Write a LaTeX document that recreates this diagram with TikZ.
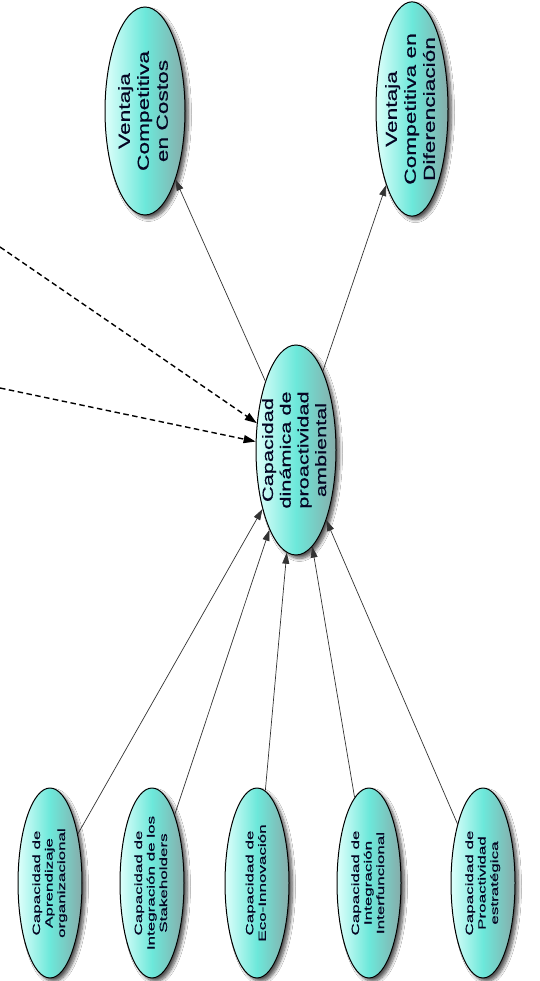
\documentclass[tikz,border=0pt]{standalone}
\usepackage{fontspec}
\setmainfont{Liberation Sans}[FakeBold=0.5]
\usepackage{graphicx}
\usetikzlibrary{shapes.geometric,arrows.meta,shadows.blur}
\definecolor{ellL}{RGB}{222,255,251}
\definecolor{ellM}{RGB}{108,232,218}
\definecolor{ellR}{RGB}{135,172,170}
\definecolor{txtc}{RGB}{5,5,35}
\newcommand{\rtxt}[4]{\rotatebox{90}{\fontsize{#1}{#2}\selectfont\scalebox{#3}[1]{\begin{tabular}{@{}c@{}}#4\end{tabular}}}}
\begin{document}
\begin{tikzpicture}[x=1pt,y=-1pt,
  ell/.style={ellipse, draw=black, line width=1pt, inner xsep=-25pt, inner ysep=0pt,
     left color=ellL, right color=ellR, middle color=ellM, text=txtc,
     blur shadow={shadow xshift=3.5pt, shadow yshift=-3.5pt, shadow blur steps=8, shadow blur radius=3pt, shadow opacity=65}},
  big/.style={ell, minimum width=80pt, minimum height=210pt},
  small/.style={ell, minimum width=64pt, minimum height=190pt},
  link/.style={draw=black!80, line width=0.7pt, -{Triangle[length=11pt,width=7pt]}},
  dlink/.style={draw=black, line width=1.4pt, dash pattern=on 5.5pt off 3.5pt, -{Triangle[length=12pt,width=8pt]}}
]
\useasboundingbox (0,0) rectangle (539,981);
\fill[white] (0,0) rectangle (539,981);

\node[big] (cen) at (296,450) {\rtxt{15}{17.7}{1.45}{Capacidad\\dinámica de\\proactividad\\ambiental}};
\node[big, minimum width=80pt, minimum height=208pt] (cos) at (145,111) {\rtxt{16}{19}{1.42}{Ventaja\\Competitiva\\en Costos}};
\node[big, minimum width=72pt, minimum height=208pt] (dif) at (412,109) {\rtxt{16}{19}{1.42}{Ventaja\\Competitiva en\\Diferenciación}};

\node[small] (apr) at (50,883) {\rtxt{10.5}{12.5}{1.62}{Capacidad de\\Aprendizaje\\organizacional}};
\node[small] (stk) at (152,883) {\rtxt{10.5}{12.5}{1.62}{Capacidad de\\Integración de los\\Stakeholders}};
\node[small] (eco) at (257,883) {\rtxt{10.5}{12.5}{1.62}{Capacidad de\\Eco-Innovación}};
\node[small] (inf) at (369,883) {\rtxt{10.5}{12.5}{1.62}{Capacidad de\\Integración\\Interfuncional}};
\node[small] (pro) at (483,883) {\rtxt{10.5}{12.5}{1.62}{Capacidad de\\Proactividad\\estratégica}};

\draw[link] (cen) -- (cos);
\draw[link] (cen) -- (dif);
\foreach \n in {apr,stk,eco,inf,pro} \draw[link] (\n) -- (cen);

\coordinate (l1) at (0,247);
\coordinate (l2) at (0,388);
\draw[dlink] (l1) -- (cen);
\draw[dlink] (l2) -- (cen);
\end{tikzpicture}
\end{document}
